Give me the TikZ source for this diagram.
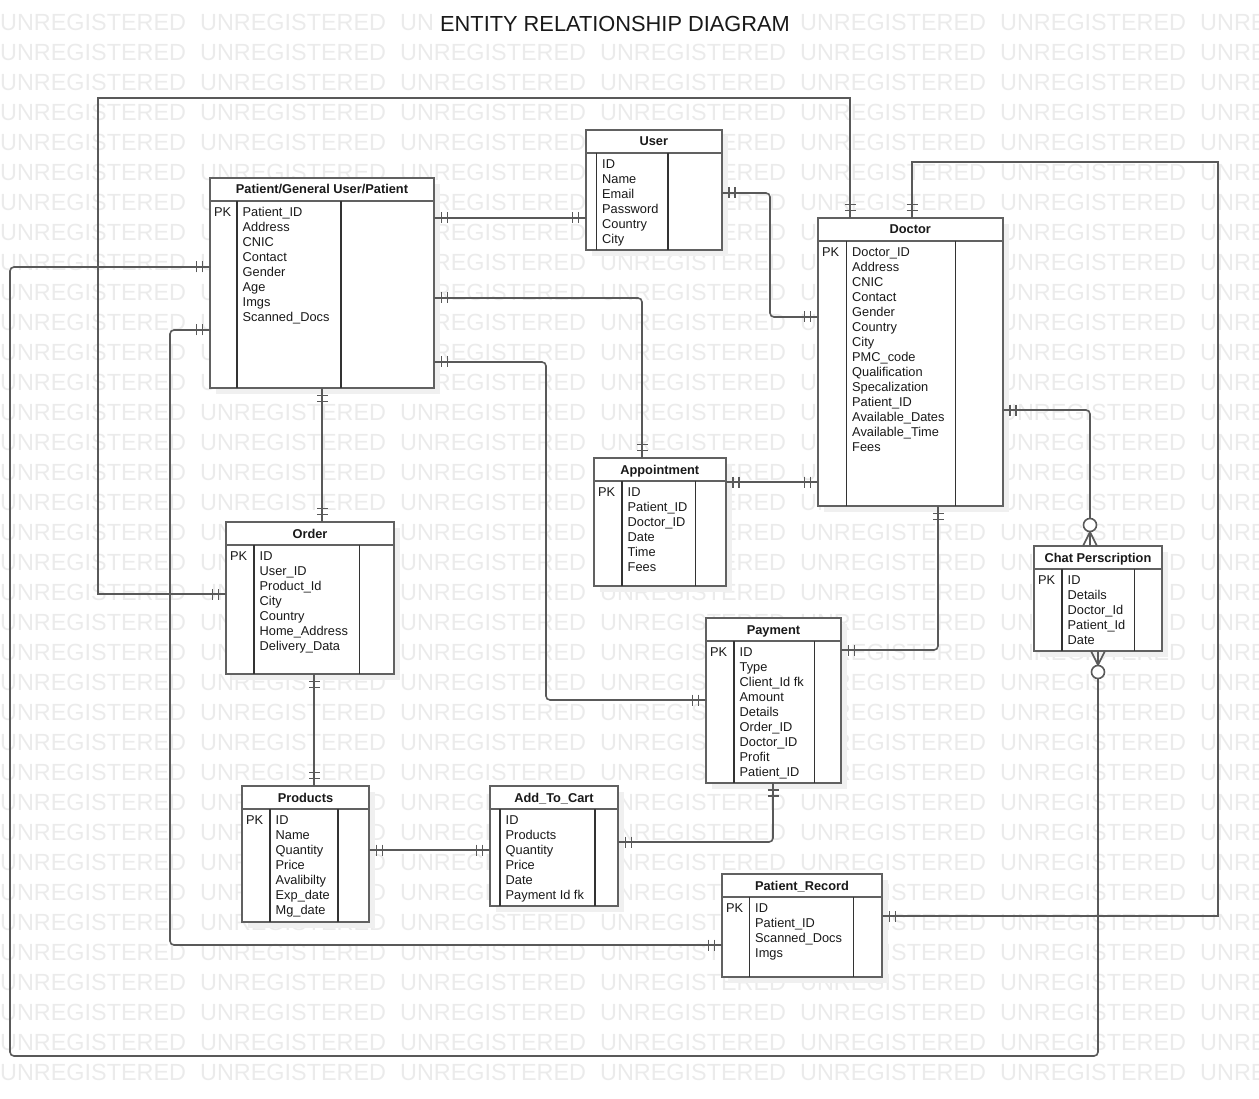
\documentclass[tikz,border=0pt]{standalone}
\usepackage{fontspec}
\setmainfont{Liberation Sans}
\usetikzlibrary{calc,decorations.markings}

\tikzset{
  wmark/.style={anchor=base west, inner sep=0pt, text=black!8, font=\fontsize{23.4}{28}\selectfont},
  title/.style={anchor=base, fill=white, inner xsep=5pt, inner ysep=3pt, text=black!90, font=\fontsize{21.8}{26}\selectfont},
  entbox/.style={draw=black!62, line width=2pt, fill=white, anchor=north west, inner sep=0pt, outer sep=0pt},
  entline/.style={draw=black!62, line width=2pt},
  colline/.style={draw=black!80, line width=1.4pt},
  shade/.style={fill=black!6},
  enttitle/.style={anchor=base, inner sep=0pt, text=black!90, font=\bfseries\fontsize{12.8}{15}\selectfont},
  attr/.style={anchor=base west, inner sep=0pt, text=black!90, font=\fontsize{12.8}{15}\selectfont},
  link/.style={draw=black!65, line width=1.6pt, rounded corners=4pt},
  bar/.style={draw=black!65, line width=1.6pt},
  oneone/.style={postaction={decorate, decoration={markings,
    mark=at position 7.5pt with {\draw[bar] (0,-5.5) -- (0,5.5);},
    mark=at position 13.5pt with {\draw[bar] (0,-5.5) -- (0,5.5);},
    mark=at position -13.5pt with {\draw[bar] (0,-5.5) -- (0,5.5);},
    mark=at position -7.5pt with {\draw[bar] (0,-5.5) -- (0,5.5);}}}},
  onemany/.style={postaction={decorate, decoration={markings,
    mark=at position 7.5pt with {\draw[bar] (0,-5.5) -- (0,5.5);},
    mark=at position 13.5pt with {\draw[bar] (0,-5.5) -- (0,5.5);},
    mark=at position -14pt with {\draw[bar] (0,0) -- (14,7) (0,0) -- (14,-7);
      \draw[bar, fill=white] (-7,0) circle[radius=6.5pt];}}}},
}

% \entity{name}{x,y}{width}{height}{col 1}{col 2}{title}{pk}{attributes}
\newcommand{\entity}[9]{%
  \fill[shade] ($(#2)+(6,6)$) rectangle ++(#3,#4);
  \node[entbox, minimum width=#3, minimum height=#4] (#1) at (#2) {};
  \node[enttitle] (#1-t) at ($(#1.north)+(0,16)$) {#7};
  \draw[entline] ($(#1.north west)+(0,23)$) -- ($(#1.north east)+(0,23)$);
  \draw[colline] ($(#1.north west)+(#5,23)$) -- ($(#1.south west)+(#5,0)$);
  \draw[colline] ($(#1.north west)+(#6,23)$) -- ($(#1.south west)+(#6,0)$);
  \node[attr] (#1-pk) at ($(#1.north west)+(4,38.5)$) {#8};
  \foreach \a [count=\i] in {#9}
    \node[attr] (#1-\i) at ($(#1.north west)+(#5+5.5,23.5+15*\i)$) {\a};
}

\begin{document}
\begin{tikzpicture}[x=1pt, y=-1pt]
  \useasboundingbox (0,0) rectangle (1259,1099);
  \clip (0,0) rectangle (1259,1099);
  % Watermark
  \foreach \r in {0,...,35}
    \foreach \c in {0,...,6}
      \node[wmark] (wm-\r-\c) at (200*\c, 30.7+30*\r) {UNREGISTERED};
  \node[title] (title) at (615,31.7) {ENTITY RELATIONSHIP DIAGRAM};

  % Entities
  \entity{patient}{210,178}{224}{210}{27}{131}{Patient/General User/Patient}{PK}{Patient\_ID, Address, CNIC, Contact, Gender, Age, Imgs, Scanned\_Docs}
  \entity{user}{586,130}{135.5}{120}{10.5}{82}{User}{}{ID, Name, Email, Password, Country, City}
  \entity{doctor}{818,218}{184.5}{288}{28.5}{137.5}{Doctor}{PK}{Doctor\_ID, Address, CNIC, Contact, Gender, Country, City, PMC\_code, Qualification, Specalization, Patient\_ID, Available\_Dates, Available\_Time, Fees}
  \entity{appt}{594,458}{131.5}{127.5}{28}{101.5}{Appointment}{PK}{ID, Patient\_ID, Doctor\_ID, Date, Time, Fees}
  \entity{order}{226,522}{168}{152}{28}{133.5}{Order}{PK}{ID, User\_ID, Product\_Id, City, Country, Home\_Address, Delivery\_Data}
  \entity{pay}{706,618}{135}{164.5}{28}{108.5}{Payment}{PK}{ID, Type, Client\_Id fk, Amount, Details, Order\_ID, Doctor\_ID, Profit, Patient\_ID}
  \entity{chat}{1034,546}{128}{105}{28}{100.5}{Chat Perscription}{PK}{ID, Details, Doctor\_Id, Patient\_Id, Date}
  \entity{prod}{242,786}{127}{136}{28}{96}{Products}{PK}{ID, Name, Quantity, Price, Avalibilty, Exp\_date, Mg\_date}
  \entity{cart}{490,786}{128}{120}{10}{105}{Add\_To\_Cart}{}{ID, Products, Quantity, Price, Date, Payment Id fk}
  \entity{rec}{722,874}{160}{103}{27.5}{131.5}{Patient\_Record}{PK}{ID, Patient\_ID, Scanned\_Docs, Imgs}

  % Relations
  \draw[link, oneone] ($(patient.north east)+(0,40)$) -- ($(user.north west)+(0,88)$);
  \draw[link, oneone] ($(user.north east)+(0,63)$) -- (770,193) |- ($(doctor.north west)+(0,99)$);
  \draw[link, oneone] ($(patient.north east)+(0,120)$) -| ($(appt.north west)+(48,0)$);
  \draw[link, oneone] ($(patient.north east)+(0,184)$) -- (546,362) |- ($(pay.north west)+(0,82)$);
  \draw[link, oneone] ($(patient.south west)+(112,0)$) -- ($(order.north west)+(96,0)$);
  \draw[link, oneone] ($(order.south west)+(88,0)$) -- ($(prod.north west)+(72,0)$);
  \draw[link, oneone] ($(prod.north east)+(0,64)$) -- ($(cart.north west)+(0,64)$);
  \draw[link, oneone] ($(cart.north east)+(0,56)$) -| ($(pay.south west)+(67,0)$);
  \draw[link, oneone] ($(appt.north east)+(0,24)$) -- ($(doctor.north west)+(0,264)$);
  \draw[link, oneone] ($(doctor.south west)+(120,0)$) |- ($(pay.north east)+(0,32)$);
  \draw[link, onemany] ($(doctor.north east)+(0,192)$) -| ($(chat.north west)+(56,0)$);
  \draw[link, onemany] ($(patient.north west)+(0,89)$) -- (10,267) -- (10,1056) -| ($(chat.south west)+(64,0)$);
  \draw[link, oneone] ($(patient.north west)+(0,152)$) -- (170,330) |- ($(rec.north west)+(0,71)$);
  \draw[link, oneone, sharp corners] ($(order.north west)+(0,72)$) -- (98,594) -- (98,98) -| ($(doctor.north west)+(32,0)$);
  \draw[link, oneone, sharp corners] ($(doctor.north west)+(94,0)$) |- (1218,162) |- ($(rec.north east)+(0,42)$);
\end{tikzpicture}
\end{document}
